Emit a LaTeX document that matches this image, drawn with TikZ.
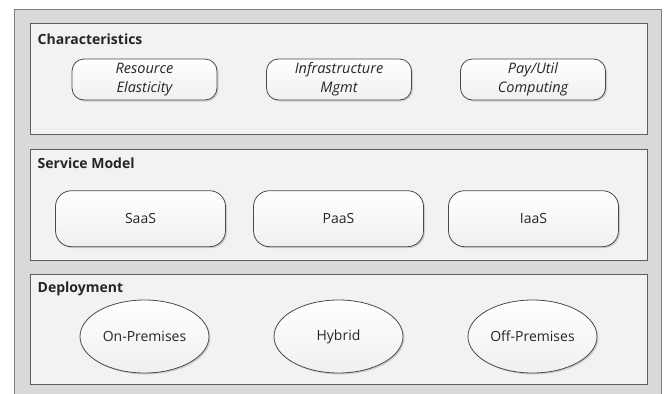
\documentclass[tikz,border=0pt]{standalone}
\usepackage{fontspec}
\setmainfont{Open Sans}
\usetikzlibrary{shapes.geometric,shadows}
\definecolor{outerfill}{HTML}{D9D9D9}
\definecolor{outerline}{HTML}{7F7F7F}
\definecolor{panelfill}{HTML}{F2F2F2}
\definecolor{panelline}{HTML}{5E5E5E}
\definecolor{itemline}{HTML}{4A4A4A}
\definecolor{txt}{HTML}{262626}
\tikzset{
  outerframe/.style={draw=outerline, line width=1.2pt, fill=outerfill},
  panel/.style={draw=panelline, line width=1pt, fill=panelfill},
  heading/.style={anchor=west, inner sep=0pt, text=txt,
    font=\fontsize{14}{16}\selectfont\bfseries},
  itemshadow/.style={drop shadow={shadow xshift=1.5pt, shadow yshift=-1.5pt,
    opacity=0.25, fill=black!60}},
  charbox/.style={rectangle, rounded corners=12pt, draw=itemline, line width=0.8pt,
    top color=white, bottom color=black!6, itemshadow,
    minimum width=145pt, minimum height=41pt, align=center, inner sep=0pt,
    text=txt, font=\fontsize{14.5}{19}\selectfont\itshape},
  svcbox/.style={rectangle, rounded corners=16pt, draw=itemline, line width=0.8pt,
    top color=white, bottom color=black!6, itemshadow,
    minimum width=170pt, minimum height=56pt, inner sep=0pt,
    text=txt, font=\fontsize{14}{16}\selectfont},
  depoval/.style={ellipse, draw=itemline, line width=0.8pt,
    top color=white, bottom color=black!6, itemshadow,
    minimum width=129pt, minimum height=73pt, inner sep=0pt,
    text=txt, font=\fontsize{14}{16}\selectfont},
}
\begin{document}
\begin{tikzpicture}[x=1pt, y=-1pt]
  \useasboundingbox (0,0) rectangle (665,394);
  \clip (0,0) rectangle (665,394);
  \fill[white] (0,0) rectangle (665,394);

  % outer frame, running past the lower edge
  \draw[outerframe] (14.5,9.5) rectangle (661.5,420);

  % layer panels
  \draw[panel] (30.5,23.5) rectangle (647,134.5);
  \draw[panel] (30.5,149) rectangle (647,260);
  \draw[panel] (30.5,274) rectangle (647,384.5);

  % headings
  \node[heading] (hchar) at (37.5,39) {Characteristics};
  \node[heading] (hsvc)  at (37.5,163) {Service Model};
  \node[heading] (hdep)  at (37.5,289) {Deployment};

  % characteristics
  \node[charbox] (elastic) at (144.5,79.5) {Resource\\Elasticity};
  \node[charbox] (infra)   at (339,79.5)   {Infrastructure\\Mgmt};
  \node[charbox] (pay)     at (533,79.5)   {Pay/Util\\Computing};

  % service models
  \node[svcbox] (saas) at (140.5,218.7) {SaaS};
  \node[svcbox] (paas) at (338.5,218.7) {PaaS};
  \node[svcbox] (iaas) at (533.5,218.7) {IaaS};

  % deployment models
  \node[depoval] (onprem)  at (144.5,336.5) {On-Premises};
  \node[depoval] (hybrid)  at (338.5,336.5) {Hybrid};
  \node[depoval] (offprem) at (532.5,336.5) {Off-Premises};
\end{tikzpicture}
\end{document}
